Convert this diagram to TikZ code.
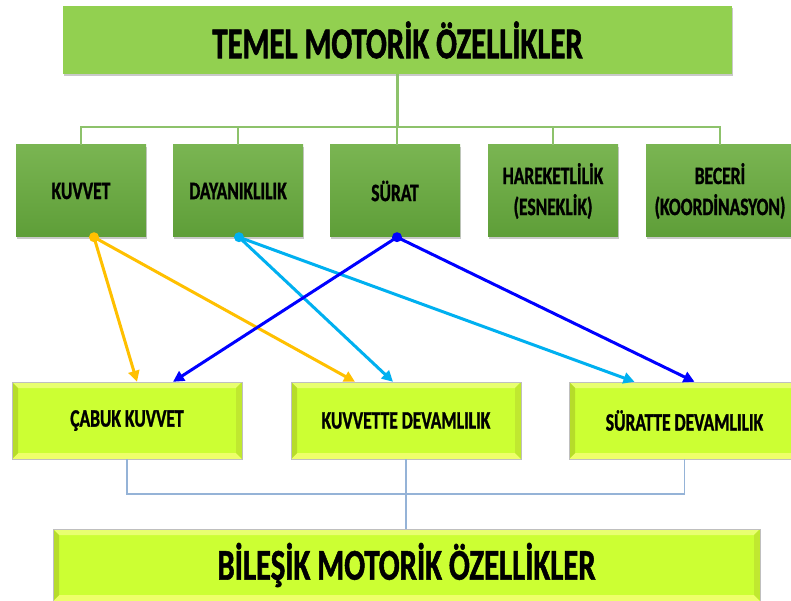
\documentclass[tikz,border=0pt]{standalone}
\usepackage{fontspec}
\setmainfont{Carlito}[FakeStretch=0.7,BoldFeatures={FakeBold=1.2}]
\usetikzlibrary{arrows.meta,shadows,calc}
\definecolor{topgreen}{HTML}{92D050}
\definecolor{midtop}{HTML}{7AB552}
\definecolor{midbot}{HTML}{5E9E38}
\definecolor{lime}{HTML}{CCFF33}
\definecolor{bevtop}{HTML}{E8FF70}
\definecolor{bevbot}{HTML}{EEFF6A}
\definecolor{bevleft}{HTML}{B6DC2A}
\definecolor{bevright}{HTML}{C0E830}
\definecolor{conngreen}{HTML}{8DC26B}
\definecolor{connblue}{HTML}{95B3D7}
\definecolor{aorange}{HTML}{FFC000}
\definecolor{acyan}{HTML}{00B0F0}
\definecolor{ablue}{HTML}{0000FF}
\tikzset{
  shad/.style={drop shadow={shadow xshift=1pt,shadow yshift=-2.5pt,opacity=0.35,fill=black!60}},
  topbox/.style={rectangle,inner sep=0pt,fill=topgreen,shad,font=\bfseries\fontsize{44}{50}\selectfont},
  midbox/.style={rectangle,inner sep=0pt,minimum width=130pt,minimum height=92pt,
     top color=midtop,bottom color=midbot,shad,align=center,
     font=\bfseries\fontsize{25}{31}\selectfont},
  bevbox/.style={rectangle,inner sep=0pt,fill=lime,draw=black!25,line width=0.4pt,
     path picture={
       \fill[bevtop] (path picture bounding box.north west) -- (path picture bounding box.north east)
          -- ([shift={(-6pt,-6pt)}]path picture bounding box.north east)
          -- ([shift={(6pt,-6pt)}]path picture bounding box.north west) -- cycle;
       \fill[bevbot] (path picture bounding box.south west) -- (path picture bounding box.south east)
          -- ([shift={(-6pt,6pt)}]path picture bounding box.south east)
          -- ([shift={(6pt,6pt)}]path picture bounding box.south west) -- cycle;
       \fill[bevleft] (path picture bounding box.north west) -- (path picture bounding box.south west)
          -- ([shift={(6pt,6pt)}]path picture bounding box.south west)
          -- ([shift={(6pt,-6pt)}]path picture bounding box.north west) -- cycle;
       \fill[bevright] (path picture bounding box.north east) -- (path picture bounding box.south east)
          -- ([shift={(-6pt,6pt)}]path picture bounding box.south east)
          -- ([shift={(-6pt,-6pt)}]path picture bounding box.north east) -- cycle;
     }},
  lowbox/.style={bevbox,minimum width=230pt,minimum height=77pt,font=\bfseries\fontsize{25}{30}\selectfont},
  basebox/.style={bevbox,font=\bfseries\fontsize{44}{50}\selectfont},
  conn/.style={draw=conngreen,line width=2.5pt},
  lowconn/.style={draw=connblue,line width=1.5pt},
  arr/.style={line width=3pt,-{Triangle[length=11pt,width=11pt]}},
}
\begin{document}
\begin{tikzpicture}[x=1pt,y=-1pt]
\clip (0,0) rectangle (791,601);
\fill[white] (0,0) rectangle (791,601);
% top
\node[topbox,minimum width=669pt,minimum height=68pt] (temel) at (397.5,40) {TEMEL MOTORİK ÖZELLİKLER};
% second row
\node[midbox] (kuvvet) at (81,191) {KUVVET};
\node[midbox] (dayan) at (238,191) {DAYANIKLILIK};
\node[midbox] (surat) at (395,191) {SÜRAT};
\node[midbox] (hareket) at (553,191) {HAREKETLİLİK\\(ESNEKLİK)};
\node[midbox,minimum width=148pt] (beceri) at (720,191) {BECERİ\\(KOORDİNASYON)};
% connectors top
\draw[conn] (temel.south) -- ++(0,53);
\draw[conn] (kuvvet.north) -- ++(0,-18) -| (beceri.north);
\draw[conn] (dayan.north) -- ++(0,-18);
\draw[conn] ([xshift=2pt]surat.north) -- ++(0,-18);
\draw[conn] (hareket.north) -- ++(0,-18);
% third row
\node[lowbox] (cabuk) at (127,420.5) {ÇABUK KUVVET};
\node[lowbox] (kuvdev) at (406,420.5) {KUVVETTE DEVAMLILIK};
\node[lowbox,minimum width=231pt] (surdev) at (684.5,420.5) {SÜRATTE DEVAMLILIK};
% bottom
\node[basebox,minimum width=707pt,minimum height=72pt] (bilesik) at (406.5,565) {BİLEŞİK MOTORİK ÖZELLİKLER};
% lower connectors
\draw[lowconn] (cabuk.south) -- ++(0,35) -| (surdev.south);
\draw[lowconn] (kuvdev.south) -- (bilesik.north -| kuvdev.south);
% arrows
\draw[arr,aorange] ([xshift=13pt]kuvvet.south) -- ([xshift=10pt]cabuk.north);
\draw[arr,aorange] ([xshift=13pt]kuvvet.south) -- ([xshift=-51pt]kuvdev.north);
\draw[arr,acyan] ([xshift=1pt]dayan.south) -- ([xshift=-13pt]kuvdev.north);
\draw[arr,acyan] ([xshift=1pt]dayan.south) -- ([xshift=-50pt]surdev.north);
\draw[arr,ablue] ([xshift=2pt]surat.south) -- ([xshift=46pt]cabuk.north);
\draw[arr,ablue] ([xshift=2pt]surat.south) -- ([xshift=10pt]surdev.north);
\fill[aorange] ([xshift=13pt]kuvvet.south) circle (5pt);
\fill[acyan] ([xshift=1pt]dayan.south) circle (5pt);
\fill[ablue] ([xshift=2pt]surat.south) circle (5pt);
\end{tikzpicture}
\end{document}
